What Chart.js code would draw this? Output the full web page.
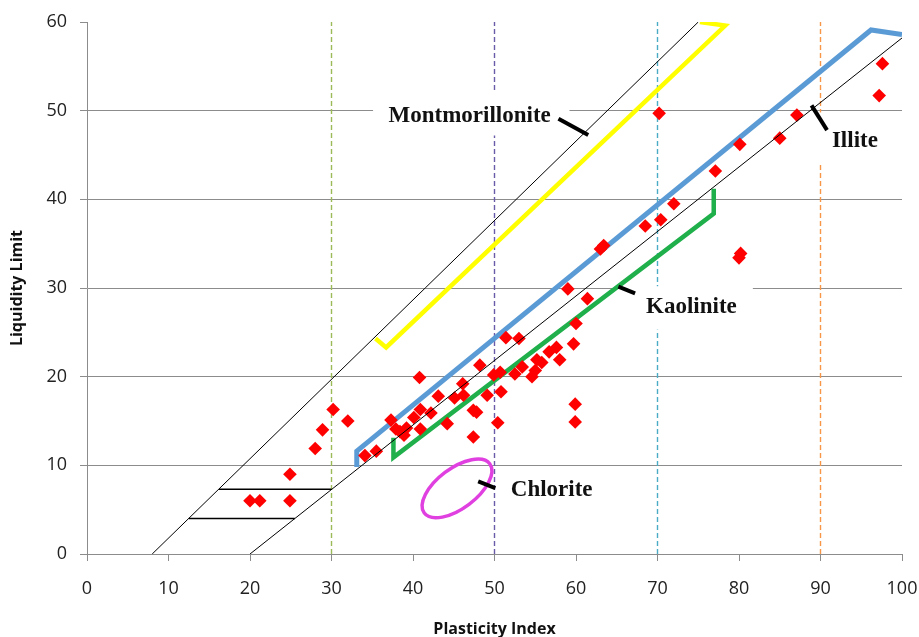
<!DOCTYPE html>
<html>
<head>
<meta charset="utf-8">
<script src="https://cdn.jsdelivr.net/npm/chart.js@4.4.1/dist/chart.umd.min.js"></script>
<style>
  html, body { margin: 0; padding: 0; background: #fff; }
  #wrap { width: 919px; height: 637px; }
</style>
</head>
<body>
<div id="wrap"><canvas id="chart" width="919" height="637"></canvas></div>
<script>
// Messpunkte: Plasticity Index (x) / Liquidity Limit (y)
const plasticityIndex = [
  20.0, 21.2, 24.9, 24.9, 28.0, 28.9, 30.2, 32.0, 34.1, 35.5,
  37.3, 37.9, 38.4, 38.9, 39.2, 40.1, 40.9, 40.9, 40.8, 42.2,
  43.1, 44.2, 45.1, 46.1, 46.2, 47.4, 47.8, 47.4, 48.2, 49.1,
  49.9, 50.4, 50.8, 50.7, 51.4, 53.0, 52.5, 53.4, 54.6, 55.0,
  55.2, 55.8, 56.7, 57.6, 58.0, 59.7, 59.9, 59.9, 60.0, 59.0,
  61.4, 63.0, 63.4, 68.5, 70.4, 72.0, 70.2, 77.1, 80.1, 80.0,
  80.2, 85.0, 87.1, 97.6, 97.2
];
const liquidityLimit = [
  6.0, 6.0, 9.0, 6.0, 11.9, 14.0, 16.3, 15.0, 11.1, 11.6,
  15.1, 14.1, 13.8, 13.4, 14.2, 15.4, 16.3, 14.1, 19.9, 15.9,
  17.8, 14.7, 17.6, 19.2, 17.9, 16.2, 16.0, 13.2, 21.3, 17.9,
  20.2, 14.8, 18.3, 20.5, 24.4, 24.3, 20.3, 21.1, 20.0, 20.7,
  21.9, 21.6, 22.8, 23.3, 21.9, 23.7, 16.9, 14.9, 26.0, 29.9,
  28.8, 34.4, 34.8, 37.0, 37.7, 39.5, 49.7, 43.2, 46.2, 33.4,
  33.9, 46.9, 49.5, 55.3, 51.7
];

// Begrenzungslinien (schwarz)
const upperLineX = [8, 75];
const upperLineY = [0, 60];
const lowerLineX = [20, 100];
const lowerLineY = [0, 58.2];
const hatchLowX = [12.5, 25.5];
const hatchLowY = [4, 4];
const hatchHighX = [16.2, 30];
const hatchHighY = [7.3, 7.3];

// Tonmineral-Bereiche
const montX = [35.4, 36.7, 78.3, 75.2];
const montY = [24.3, 23.3, 59.6, 60.0];
const illiteX = [33.1, 33.1, 96.2, 100];
const illiteY = [9.8, 11.6, 59.1, 58.6];
const kaolX = [37.6, 37.6, 76.9, 76.9];
const kaolY = [13.1, 10.9, 38.4, 41.2];

// senkrechte gestrichelte Linien
const refLinesX = [30, 50, 70, 90];
const refLineColors = ['#9BBB59', '#6A5AA8', '#4BACC6', '#F79646'];

// Achsen
const xTicksMax = 100;
const yTicksMax = 60;

function toPoints(xs, ys) {
  return xs.map((x, i) => ({ x: x, y: ys[i] }));
}

function lineSet(xs, ys, color, width, extra) {
  return Object.assign({
    data: toPoints(xs, ys),
    showLine: true,
    borderColor: color,
    backgroundColor: color,
    borderWidth: width,
    pointRadius: 0,
    fill: false,
    tension: 0,
    borderJoinStyle: 'miter',
    borderCapStyle: 'butt'
  }, extra || {});
}

var datasets = [];

// gestrichelte Linien ganz unten
refLinesX.forEach((x, i) => {
  datasets.push(lineSet([x, x], [0, yTicksMax], refLineColors[i], 1.4, { borderDash: [5, 3], order: 10 }));
});

datasets.push(lineSet(montX, montY, '#FFFF00', 4.5, { order: 5 }));
datasets.push(lineSet(illiteX, illiteY, '#5B9BD5', 5, { order: 5 }));
datasets.push(lineSet(kaolX, kaolY, '#1FAF4B', 4.5, { order: 5 }));

datasets.push(lineSet(upperLineX, upperLineY, '#000', 1, { order: 3 }));
datasets.push(lineSet(lowerLineX, lowerLineY, '#000', 1, { order: 3 }));
datasets.push(lineSet(hatchLowX, hatchLowY, '#000', 1.5, { order: 3 }));
datasets.push(lineSet(hatchHighX, hatchHighY, '#000', 1.5, { order: 3 }));

// Messpunkte als rote Rauten
datasets.push({
  data: toPoints(plasticityIndex, liquidityLimit),
  showLine: false,
  pointStyle: 'rectRot',
  pointRadius: 6.8,
  pointHoverRadius: 6.8,
  pointBackgroundColor: '#FF0000',
  pointBorderWidth: 0,
  order: 4
});

// Beschriftungen der Bereiche (in Datenkoordinaten)
const notes = [
  { text: 'Montmorillonite', x: 37.0, y: 48.67, box: [35.1, 59.2, 47.2, 52.3], lead: [57.85, 49.1, 61.5, 47.25] },
  { text: 'Illite', x: 91.4, y: 45.92, box: [89.0, 99.8, 44.1, 49.8], lead: [88.9, 50.6, 90.8, 47.8] },
  { text: 'Kaolinite', x: 68.6, y: 27.18, box: [65.7, 81.7, 25.3, 30.2], lead: [65.2, 30.15, 67.25, 29.4] },
  { text: 'Chlorite', x: 52.0, y: 6.57, box: null, lead: [48.0, 8.18, 50.1, 7.43] }
];
const chloriteEllipse = { cx: 45.4, cy: 7.4, a: 5.03, b: 2.45, angle: -37 };

const notesPlugin = {
  id: 'notes',
  afterDatasetsDraw(chart) {
    const ctx = chart.ctx;
    const xs = chart.scales.x, ys = chart.scales.y;
    const pxPerX = xs.getPixelForValue(1) - xs.getPixelForValue(0);
    ctx.save();

    // Ellipse Chlorite
    const e = chloriteEllipse;
    ctx.beginPath();
    ctx.ellipse(xs.getPixelForValue(e.cx), ys.getPixelForValue(e.cy),
      e.a * pxPerX, e.b * pxPerX, e.angle * Math.PI / 180, 0, 2 * Math.PI);
    ctx.strokeStyle = '#E040E0';
    ctx.lineWidth = 3.5;
    ctx.stroke();

    for (const n of notes) {
      if (n.box) {
        const l = xs.getPixelForValue(n.box[0]), r = xs.getPixelForValue(n.box[1]);
        const b = ys.getPixelForValue(n.box[2]), t = ys.getPixelForValue(n.box[3]);
        ctx.fillStyle = '#fff';
        ctx.fillRect(l, t, r - l, b - t);
      }
    }
    for (const n of notes) {
      ctx.fillStyle = '#111';
      ctx.font = 'bold 23px "Liberation Serif"';
      ctx.textAlign = 'left';
      ctx.textBaseline = 'alphabetic';
      ctx.fillText(n.text, xs.getPixelForValue(n.x), ys.getPixelForValue(n.y));

      ctx.beginPath();
      ctx.moveTo(xs.getPixelForValue(n.lead[0]), ys.getPixelForValue(n.lead[1]));
      ctx.lineTo(xs.getPixelForValue(n.lead[2]), ys.getPixelForValue(n.lead[3]));
      ctx.strokeStyle = '#000';
      ctx.lineWidth = 4;
      ctx.lineCap = 'butt';
      ctx.stroke();
    }
    ctx.restore();
  }
};

const gridGray = '#8c8c8c';

new Chart(document.getElementById('chart'), {
  type: 'scatter',
  data: { datasets: datasets },
  plugins: [notesPlugin],
  options: {
    responsive: false,
    animation: false,
    devicePixelRatio: 1,
    layout: { padding: { left: 0, right: 17, top: 22, bottom: 0 } },
    plugins: { legend: { display: false }, tooltip: { enabled: false } },
    scales: {
      x: {
        type: 'linear',
        min: 0,
        max: xTicksMax,
        afterFit: (s) => { s.height = 83; s.paddingLeft = 0; s.paddingRight = 0; },
        ticks: { stepSize: 10, padding: 17, color: '#222', font: { family: 'Open Sans', size: 18 } },
        grid: { drawOnChartArea: false, tickColor: gridGray, tickLength: 7 },
        border: { color: gridGray, width: 1 },
        title: { display: true, text: 'Plasticity Index', color: '#111',
                 font: { family: 'Open Sans', size: 16, weight: 'bold' }, padding: { top: 0, bottom: -2 } }
      },
      y: {
        type: 'linear',
        min: 0,
        max: yTicksMax,
        afterFit: (s) => { s.width = 87; s.paddingTop = 0; s.paddingBottom = 0; },
        ticks: { stepSize: 10, padding: 13, color: '#222', font: { family: 'Open Sans', size: 18 } },
        grid: {
          color: (c) => (c.tick && c.tick.value > 0 && c.tick.value < yTicksMax) ? gridGray : 'rgba(0,0,0,0)',
          tickColor: gridGray,
          tickLength: 7,
          lineWidth: 1
        },
        border: { color: gridGray, width: 1 },
        title: { display: true, text: 'Liquidity Limit', color: '#111',
                 font: { family: 'Open Sans', size: 16, weight: 'bold' }, padding: { top: 8, bottom: 0 } }
      }
    }
  }
});
</script>
</body>
</html>
